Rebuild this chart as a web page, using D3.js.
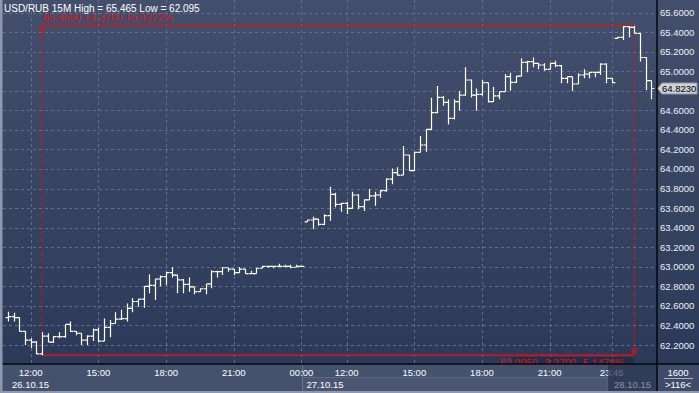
<!DOCTYPE html>
<html><head><meta charset="utf-8">
<script src="https://cdn.jsdelivr.net/npm/d3@7"></script>
<style>html,body{margin:0;padding:0;background:#2f3b58;overflow:hidden}svg{display:block}</style>
</head><body><svg id="c" width="699" height="393"></svg>
<script>
// ---- data (15-minute OHLC, USD/RUB) ----
const opens = [62.48,62.49,62.48,62.34,62.25,62.23,62.11,62.29,62.23,62.285,62.285,62.41,62.34,62.32,62.25,62.29,62.355,62.24,62.38,62.42,62.465,62.47,62.575,62.645,62.67,62.80,62.81,62.875,62.90,62.94,62.915,62.865,62.82,62.795,62.745,62.775,62.825,62.95,62.95,62.99,62.975,62.94,62.975,62.93,62.93,62.985,63.005,63.005,63.005,63.005,63.005,62.995,63.005,
63.46,63.478,63.488,63.434,63.522,63.741,63.638,63.649,63.597,63.734,63.614,63.683,63.724,63.734,63.778,63.897,63.962,63.938,64.143,63.983,64.17,64.245,64.405,64.576,64.732,64.681,64.518,64.688,64.756,64.91,64.756,64.763,64.882,64.688,64.748,64.79,64.944,64.886,64.95,65.09,65.097,65.08,65.063,65.019,65.08,65.056,64.927,64.944,64.869,64.961,64.971,64.988,64.988,65.073,64.927,
65.336,65.346,65.455,65.448,65.387,65.14,64.903];
const highs = [62.54,62.53,62.48,62.34,62.27,62.24,62.33,62.32,62.29,62.33,62.41,62.44,62.34,62.32,62.30,62.37,62.38,62.47,62.455,62.535,62.56,62.625,62.68,62.67,62.80,62.92,62.88,62.91,62.95,62.995,62.92,62.875,62.89,62.795,62.78,62.825,62.965,62.96,62.995,62.99,62.975,62.995,62.975,62.96,62.99,63.01,63.005,63.005,63.03,63.02,63.02,63.02,63.005,
63.48,63.512,63.488,63.536,63.819,63.758,63.655,63.666,63.768,63.741,63.689,63.795,63.768,63.785,63.904,64.006,64.017,64.235,64.143,64.177,64.337,64.405,64.729,64.848,64.746,64.712,64.712,64.797,65.039,64.916,64.824,64.91,64.882,64.841,64.79,64.971,64.985,64.95,65.131,65.107,65.141,65.087,65.08,65.087,65.107,65.063,64.944,64.944,64.978,65.019,64.995,64.995,65.08,65.08,64.927,
65.35,65.462,65.462,65.465,65.39,65.14,64.903];
const lows = [62.44,62.44,62.34,62.20,62.17,62.105,62.095,62.23,62.22,62.27,62.275,62.335,62.30,62.20,62.20,62.24,62.23,62.24,62.28,62.42,62.455,62.44,62.535,62.59,62.58,62.73,62.66,62.80,62.81,62.89,62.73,62.73,62.745,62.72,62.745,62.72,62.78,62.89,62.915,62.95,62.915,62.94,62.93,62.925,62.93,62.985,62.99,62.985,62.995,62.995,62.985,62.995,63.005,
63.46,63.383,63.42,63.427,63.471,63.608,63.563,63.54,63.597,63.587,63.57,63.683,63.625,63.706,63.768,63.843,63.931,63.938,63.979,63.979,64.17,64.177,64.398,64.569,64.647,64.456,64.507,64.596,64.746,64.732,64.596,64.748,64.68,64.688,64.714,64.79,64.80,64.882,64.95,64.988,65.039,65.019,65.005,65.019,65.039,64.876,64.876,64.797,64.869,64.927,64.927,64.937,64.961,64.876,64.876,
65.33,65.319,65.346,65.387,65.10,64.807,64.712];
const closes = [62.49,62.48,62.34,62.25,62.23,62.11,62.29,62.23,62.285,62.285,62.41,62.34,62.32,62.25,62.29,62.355,62.24,62.38,62.42,62.465,62.47,62.575,62.645,62.67,62.80,62.81,62.875,62.90,62.94,62.915,62.865,62.82,62.795,62.745,62.775,62.825,62.95,62.95,62.99,62.975,62.94,62.975,62.93,62.93,62.985,63.005,63.005,63.005,63.005,63.005,62.995,63.005,63.005,
63.478,63.488,63.434,63.522,63.741,63.638,63.649,63.597,63.734,63.614,63.683,63.724,63.734,63.778,63.897,63.962,63.938,64.143,63.983,64.17,64.245,64.405,64.576,64.732,64.681,64.518,64.688,64.756,64.91,64.756,64.763,64.882,64.688,64.748,64.79,64.944,64.886,64.95,65.09,65.097,65.08,65.063,65.019,65.08,65.056,64.927,64.944,64.869,64.961,64.971,64.988,64.988,65.073,64.927,64.882,
65.346,65.455,65.448,65.387,65.14,64.903,64.823];
const slotCount = 116;
const timeTickIndex = [4,16,28,40,52,60,72,84,96,107];
const timeTickLabels = ["12:00","15:00","18:00","21:00","00:00","12:00","15:00","18:00","21:00","23:45"];
const dateLabels = ["26.10.15","27.10.15","28.10.15"];
const yTicks = [62.2,62.4,62.6,62.8,63.0,63.2,63.4,63.6,63.8,64.0,64.2,64.4,64.6,64.8,65.0,65.2,65.4,65.6];
const titleText = "USD/RUB 15M High = 65.465 Low = 62.095";
const highNote = "65.4650 +3.3700 +5.4272%";
const lowNote = "62.0950 -3.3700 -5.1479%";
const lastPrice = 64.823;
const cornerTexts = ["1600", ">116<"];

// ---- layout ----
const W = 699, H = 393;
const plotL = 3, plotR = 657, plotT = 0, plotB = 364;
const svg = d3.select("#c");
const font = "'Liberation Sans', Arial, sans-serif";

const x = d3.scaleBand().domain(d3.range(slotCount)).range([5.3, 659.7]).padding(0);
const cx = i => x(i) + x.bandwidth() / 2;
const y = d3.scaleLinear().domain([62.2, 65.6]).range([345, 12.5]);

const defs = svg.append("defs");
const g1 = defs.append("linearGradient").attr("id", "bg").attr("gradientUnits", "userSpaceOnUse")
  .attr("x1", 0).attr("y1", 0).attr("x2", 0).attr("y2", plotB);
g1.append("stop").attr("offset", 0).attr("stop-color", "#434f6c");
g1.append("stop").attr("offset", 1).attr("stop-color", "#2c3958");
defs.append("clipPath").attr("id", "plotclip").append("rect")
  .attr("x", plotL).attr("y", plotT).attr("width", plotR - plotL).attr("height", plotB - plotT);
defs.append("clipPath").attr("id", "noteclip").append("rect")
  .attr("x", plotL).attr("y", 14).attr("width", plotR - plotL).attr("height", plotB - 14);

// backgrounds
svg.append("rect").attr("x", 0).attr("y", 0).attr("width", W).attr("height", plotB).attr("fill", "url(#bg)");
svg.append("rect").attr("x", 0).attr("y", plotB).attr("width", W).attr("height", H - plotB).attr("fill", "#45526e");

const plot = svg.append("g").attr("clip-path", "url(#plotclip)");

// grid
plot.append("g").selectAll("line").data(yTicks).join("line")
  .attr("x1", plotL).attr("x2", plotR).attr("y1", d => Math.round(y(d)) + 0.5).attr("y2", d => Math.round(y(d)) + 0.5)
  .attr("stroke", "#5f6e8e").attr("stroke-dasharray", "3,3");
plot.append("g").selectAll("line").data(timeTickIndex).join("line")
  .attr("x1", d => Math.round(cx(d)) + 0.5).attr("x2", d => Math.round(cx(d)) + 0.5).attr("y1", plotT).attr("y2", plotB)
  .attr("stroke", "#5f6e8e").attr("stroke-dasharray", "3,3");

// high/low measurement
const hiIdx = d3.maxIndex(highs), loIdx = d3.minIndex(lows);
const hiV = highs[hiIdx], loV = lows[loIdx];
const xl = cx(loIdx), xh = cx(hiIdx), yh = y(hiV), yl = y(loV);
const red = "#e01010";
plot.append("rect").attr("x", 512).attr("y", yl + 2).attr("width", xh - 512).attr("height", 12).attr("fill", "rgba(20,24,40,0.35)");
plot.append("line").attr("x1", xl).attr("x2", xh).attr("y1", yh).attr("y2", yh).attr("stroke", red).attr("stroke-width", 1.2);
plot.append("line").attr("x1", xl).attr("x2", xh).attr("y1", yl).attr("y2", yl).attr("stroke", red).attr("stroke-width", 1.5);
plot.append("line").attr("x1", xl).attr("x2", xl).attr("y1", yh + 9).attr("y2", yl).attr("stroke", red).attr("stroke-dasharray", "4,3");
plot.append("line").attr("x1", xh).attr("x2", xh).attr("y1", yh).attr("y2", yl - 2).attr("stroke", red).attr("stroke-dasharray", "4,3");
plot.append("path").attr("d", `M${xl},${yh + 10} V${yh + 1} M${xl - 2.5},${yh + 5} L${xl},${yh + 1} L${xl + 2.5},${yh + 5}`)
  .attr("fill", "none").attr("stroke", red).attr("stroke-width", 1.2);
plot.append("path").attr("d", `M${xh - 2.5},${yl - 8} L${xh - 1},${yl - 1} L${xh},${yl - 5} L${xh + 1},${yl - 1} L${xh + 2.5},${yl - 8}`)
  .attr("fill", "none").attr("stroke", red).attr("stroke-width", 1);
svg.append("g").attr("clip-path", "url(#noteclip)").append("text").attr("x", xl + 1).attr("y", yh - 4.5)
  .attr("fill", red).attr("font-family", font).attr("font-size", "10.5px").text(highNote);
plot.append("text").attr("x", xh - 10).attr("y", yl + 12).attr("text-anchor", "end").attr("fill", red).attr("font-family", font).attr("font-size", "10.5px").text(lowNote);

// OHLC bars
const hw = x.bandwidth() / 2;
plot.append("g").selectAll("path").data(d3.range(opens.length)).join("path")
  .attr("d", i => {
    const c = Math.round(cx(i)) + 0.5;
    return `M${c},${y(highs[i])}V${y(lows[i])}M${c - hw},${y(opens[i])}H${c}M${c},${y(closes[i])}H${c + hw}`;
  })
  .attr("fill", "none").attr("stroke", "#ffffff").attr("stroke-width", 1.2);

// title
svg.append("text").attr("x", 4).attr("y", 11.5).attr("fill", "#ffffff").attr("font-family", font)
  .attr("font-size", "10px").text(titleText);

// y axis labels (the one under the last-price box is hidden in the reference)
const yp = y(lastPrice);
svg.append("g").selectAll("text").data(yTicks.filter(d => Math.abs(y(d) - yp) > 8)).join("text")
  .attr("x", 660).attr("y", d => y(d) + 3.5).attr("fill", "#eef1f6").attr("font-family", font).attr("font-size", "9.5px")
  .text(d => d.toFixed(4));

// last price box
svg.append("path").attr("d", `M657.5,${yp} L662,${yp - 5.5} H697 V${yp + 5.5} H662 Z`)
  .attr("fill", "#cdd1d8").attr("stroke", "#8e96a6");
svg.append("text").attr("x", 662).attr("y", yp + 3.5).attr("fill", "#000").attr("font-family", font).attr("font-size", "9.5px")
  .text(lastPrice.toFixed(4));

// x axis: date boxes
svg.append("rect").attr("x", cx(52) + 1).attr("y", 377.5).attr("width", 608 - cx(52) - 1).attr("height", 14)
  .attr("fill", "#4a5672").attr("stroke", "#5b6884");
svg.append("line").attr("x1", cx(52) + 1).attr("x2", cx(52) + 1).attr("y1", plotB).attr("y2", 391).attr("stroke", "#6c7893");

svg.append("g").selectAll("text").data(timeTickIndex).join("text")
  .attr("x", d => cx(d)).attr("y", 376).attr("text-anchor", "middle").attr("fill", "#ffffff")
  .attr("font-family", font).attr("font-size", "9.5px").text((d, k) => timeTickLabels[k]);
svg.append("text").attr("x", 12).attr("y", 387.5).attr("fill", "#ffffff").attr("font-family", font).attr("font-size", "9.5px").text(dateLabels[0]);
svg.append("text").attr("x", cx(52) + 5).attr("y", 387.5).attr("fill", "#ffffff").attr("font-family", font).attr("font-size", "9.5px").text(dateLabels[1]);

// cursor date box
svg.append("rect").attr("x", 608).attr("y", plotB).attr("width", plotR - 608).attr("height", 27).attr("fill", "#2a3550").attr("opacity", 0.72);
svg.append("text").attr("x", 632.5).attr("y", 387.5).attr("text-anchor", "middle").attr("fill", "#8c95a8").attr("font-family", font).attr("font-size", "9.5px").text(dateLabels[2]);

// corner box
svg.append("rect").attr("x", plotR).attr("y", plotB).attr("width", W - plotR).attr("height", H - plotB).attr("fill", "#3f4b68");
svg.append("text").attr("x", 678).attr("y", 375.5).attr("text-anchor", "middle").attr("fill", "#fff").attr("font-family", font).attr("font-size", "9.5px").text(cornerTexts[0]);
svg.append("line").attr("x1", 664).attr("x2", 693).attr("y1", 378.5).attr("y2", 378.5).attr("stroke", "#aab1c0");
svg.append("text").attr("x", 678).attr("y", 388).attr("text-anchor", "middle").attr("fill", "#fff").attr("font-family", font).attr("font-size", "9.5px").text(cornerTexts[1]);

// axis lines and frame
svg.append("line").attr("x1", plotR).attr("x2", plotR).attr("y1", 0).attr("y2", H).attr("stroke", "#05070c").attr("stroke-width", 1.5);
svg.append("line").attr("x1", 0).attr("x2", W).attr("y1", plotB).attr("y2", plotB).attr("stroke", "#05070c").attr("stroke-width", 1.5);
svg.append("rect").attr("x", 0).attr("y", 0).attr("width", 2.5).attr("height", H).attr("fill", "#8f99ad");
svg.append("rect").attr("x", 0).attr("y", 391).attr("width", W).attr("height", 2).attr("fill", "#8f99ad");
</script></body></html>
